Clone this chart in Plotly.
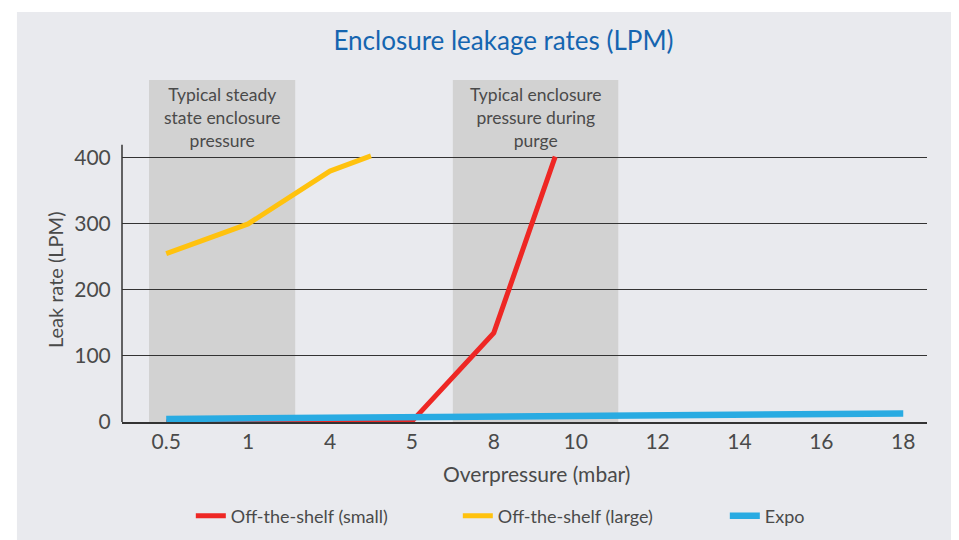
import numpy as np
import plotly.graph_objects as go

# Data
tick_labels = ["0.5", "1", "4", "5", "8", "10", "12", "14", "16", "18"]
tick_mbar = [0.5, 1, 4, 5, 8, 10, 12, 14, 16, 18]

small_x = [0.5, 1, 4, 5, 8, 9.5]
small_y = [0, 0, 0, 1, 135, 402]

large_x = [0.5, 1, 4, 4.5]
large_y = [255, 300, 380, 403]

expo_x = [0.5, 1, 4, 5, 8, 10, 12, 14, 16, 18]
expo_y = [4.5, 5.5, 6, 7, 8, 9, 10, 11, 12, 13]

series_names = ["Off-the-shelf (small)", "Off-the-shelf (large)", "Expo"]
series_colors = ["#EE2724", "#FFC20E", "#29ABE2"]

band_texts = ["Typical steady<br>state enclosure<br>pressure",
              "Typical enclosure<br>pressure during<br>purge"]

# Axis is evenly spaced by tick index: map mbar values onto the tick scale
tick_pos = list(range(len(tick_mbar)))
def pos(xs):
    return list(np.interp(xs, tick_mbar, tick_pos))

FONT = "Lato, 'Open Sans', sans-serif"
TXT = "#4a4a4a"

fig = go.Figure()
for xs, ys, name, col, w in [
    (small_x, small_y, series_names[0], series_colors[0], 5),
    (large_x, large_y, series_names[1], series_colors[1], 5),
    (expo_x, expo_y, series_names[2], series_colors[2], 6.5),
]:
    fig.add_trace(go.Scatter(x=pos(xs), y=ys, mode="lines", name=name,
                             line=dict(color=col, width=w, shape="linear"),
                             hoverinfo="skip"))

shapes = [
    dict(type="rect", xref="paper", yref="paper", x0=-0.1305, x1=1.06,
         y0=-0.38, y1=1.199, fillcolor="#e9eaee", line=dict(width=0), layer="below"),
]
bands = [(-0.21, 1.575), (3.5, 5.52)]
annotations = []
for (b0, b1), t in zip(bands, band_texts):
    shapes.append(dict(type="rect", xref="x", yref="y", x0=b0, x1=b1, y0=0, y1=518,
                       fillcolor="#d2d2d2", line=dict(width=0), layer="below"))
    annotations.append(dict(x=(b0 + b1) / 2, y=1.0, xref="x", yref="paper",
                            text=t, showarrow=False, yanchor="top", xanchor="center",
                            yshift=-2, font=dict(family=FONT, size=17.5, color=TXT),
                            align="center"))
# axis titles placed as annotations (offset from the plot centre as in the original)
annotations.append(dict(x=0, y=0.415, xref="paper", yref="paper", xshift=-67,
                        text="Leak rate (LPM)", textangle=-90, showarrow=False,
                        xanchor="center", yanchor="middle",
                        font=dict(family=FONT, size=20, color=TXT)))
annotations.append(dict(x=0.5155, y=-0.152, xref="paper", yref="paper",
                        text="Overpressure (mbar)", showarrow=False,
                        xanchor="center", yanchor="middle",
                        font=dict(family=FONT, size=21, color=TXT)))
# y axis line up to ~420
shapes.append(dict(type="line", xref="paper", yref="y", x0=0, x1=0, y0=0, y1=420,
                   line=dict(color="#333333", width=1.5)))

fig.update_layout(
    width=951, height=532,
    margin=dict(l=114, r=32, t=72, b=118, autoexpand=False),
    paper_bgcolor="white", plot_bgcolor="rgba(0,0,0,0)",
    font=dict(family=FONT, color=TXT),
    title=dict(text="Enclosure leakage rates (LPM)", x=0.521, xanchor="center",
               y=0.938, yanchor="middle", font=dict(family=FONT, size=26, color="#1565b0")),
    shapes=shapes, annotations=annotations,
    showlegend=True,
    legend=dict(orientation="h", x=0.583, xanchor="center", y=-0.275, yanchor="middle",
                entrywidth=222, font=dict(family=FONT, size=18, color=TXT),
                bgcolor="rgba(0,0,0,0)"),
)
fig.update_xaxes(range=[-0.54, 9.29], tickmode="array", tickvals=tick_pos,
                 ticktext=tick_labels, showgrid=False, zeroline=False,
                 showline=True, linecolor="#333333", linewidth=1.5,
                 ticks="", tickfont=dict(family=FONT, size=21, color=TXT))
fig.update_yaxes(range=[0, 518], tickmode="array", tickvals=[0, 100, 200, 300, 400],
                 showgrid=True, gridcolor="#333333", gridwidth=1, zeroline=False,
                 showline=False, ticks="outside", ticklen=6, tickcolor="rgba(0,0,0,0)",
                 tickfont=dict(family=FONT, size=21, color=TXT))

fig.write_html("out.html")
